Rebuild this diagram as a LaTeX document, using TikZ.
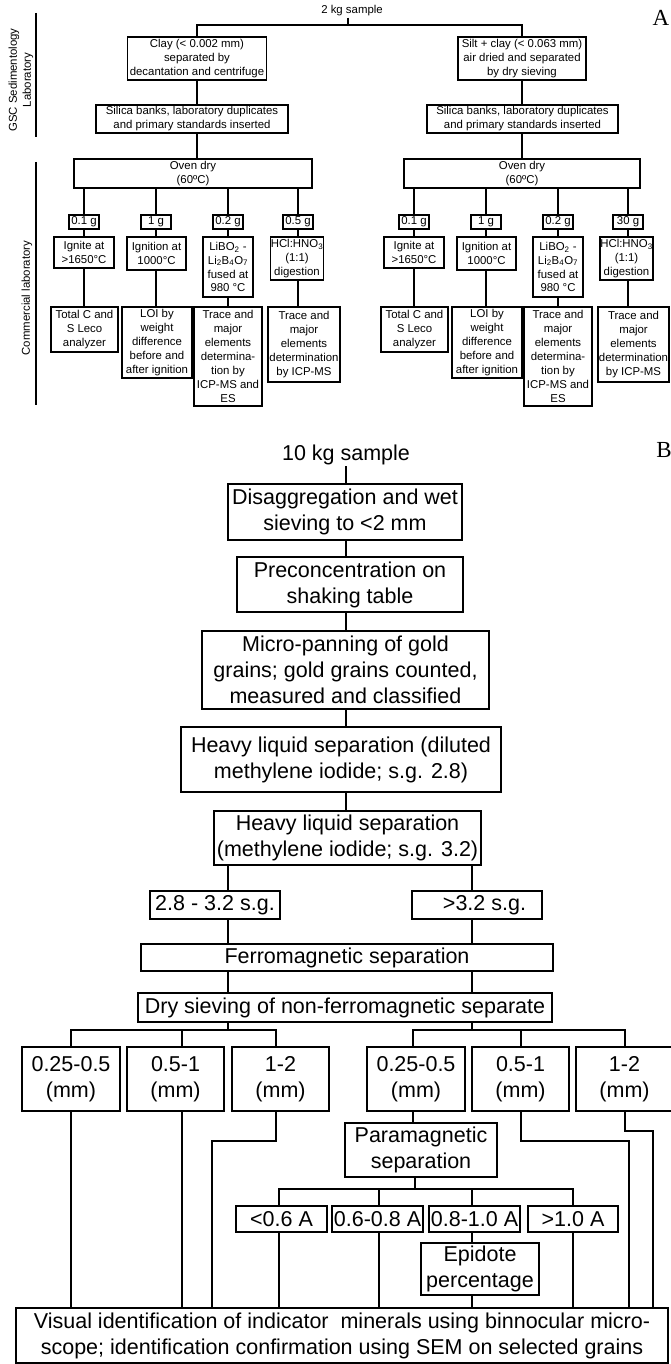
\documentclass[tikz,border=0pt]{standalone}
\usepackage{fontspec}
\setmainfont{Liberation Sans}
\newfontfamily\labfont{Liberation Serif}
\newcommand{\mybox}[7]{\node[#6, minimum width={((#4)-(#2))*1pt}, minimum height={((#5)-(#3))*1pt}] (#1) at ({((#2)+(#4))/2},{((#3)+(#5))/2}) {#7};}
\newcommand{\fa}{\fontsize{11.4}{13.9}\selectfont}
\newcommand{\fb}{\fontsize{21.5}{26}\selectfont}
\tikzset{
  boxa/.style={draw, line width=1.2pt, inner sep=0pt, align=center, font=\fa},
  boxb/.style={draw, line width=1.8pt, inner sep=0pt, align=center, font=\fb},
  conna/.style={line width=1.2pt},
  connb/.style={line width=1.8pt},
  bracket/.style={line width=1.8pt},
  panel/.style={font=\labfont\fontsize{23}{23}\selectfont, inner sep=0pt},
}
\begin{document}
\begin{tikzpicture}[x=1pt,y=-1pt]
\fill[white] (0,0) rectangle (670,1364);
\useasboundingbox (0,0) rectangle (670,1364);
% ---------------- Part A ----------------
\node[panel] (labA) at (661,18) {A};
\node[rotate=90, align=center, font=\fa] (gsc) at (21,80) {GSC Sedimentology\\Laboratory};
\node[rotate=90, font=\fa] (comm) at (27,298) {Commercial laboratory};
\coordinate (g1) at (36,13); \coordinate (g2) at (36,137);
\coordinate (c1) at (36,162); \coordinate (c2) at (36,405);
\draw[bracket] (g1) -- (g2);
\draw[bracket] (c1) -- (c2);

\node[font=\fa, inner sep=1pt] (sampleA) at (352,11) {2 kg sample};
\coordinate (hA) at (348,25);
\mybox{clay}{127.5}{37}{266.5}{80}{boxa}{Clay (< 0.002 mm)\\separated by\\decantation and centrifuge}
\mybox{siltA}{458}{37}{586}{80}{boxa}{Silt + clay (< 0.063 mm)\\air dried and separated\\by dry sieving}
\mybox{silL}{96}{105}{288}{133}{boxa}{Silica banks, laboratory duplicates\\and primary standards inserted}
\mybox{silR}{427}{105}{618}{133}{boxa}{Silica banks, laboratory duplicates\\and primary standards inserted}
\mybox{ovenL}{74}{159}{312}{188}{boxa}{Oven dry\\(60ºC)}
\mybox{ovenR}{404}{159}{640}{188}{boxa}{Oven dry\\(60ºC)}

\draw[conna] (sampleA.south -| hA) -- (hA);
\draw[conna] (clay.north) |- (hA) -| (siltA.north);
\draw[conna] (clay.south) -- (clay.south |- silL.north);
\draw[conna] (clay.south |- silL.south) -- (clay.south |- ovenL.north);
\draw[conna] (siltA.south) -- (siltA.south |- silR.north);
\draw[conna] (siltA.south |- silR.south) -- (siltA.south |- ovenR.north);

% weights
\mybox{wL1}{69}{215}{99}{229}{boxa}{0.1 g}
\mybox{wL2}{141}{215}{171}{229}{boxa}{1 g}
\mybox{wL3}{213}{215}{243}{229}{boxa}{0.2 g}
\mybox{wL4}{283}{215}{313}{229}{boxa}{0.5 g}
\mybox{wR1}{399}{215}{429}{229}{boxa}{0.1 g}
\mybox{wR2}{471}{215}{501}{229}{boxa}{1 g}
\mybox{wR3}{543}{215}{573}{229}{boxa}{0.2 g}
\mybox{wR4}{613}{215}{643}{229}{boxa}{30 g}
% processes
\mybox{pL1}{54}{237}{114}{268}{boxa}{Ignite at\\>1650°C}
\mybox{pL2}{127}{237}{186}{270}{boxa}{Ignition at\\1000°C}
\mybox{pL3}{203}{237}{253}{297}{boxa}{LiBO\textsubscript{2} -\\Li\textsubscript{2}B\textsubscript{4}O\textsubscript{7}\\fused at\\980 °C}
\mybox{pL4}{270.5}{237}{323.5}{280}{boxa}{HCl:HNO\textsubscript{3}\\(1:1)\\digestion}
\mybox{pR1}{384}{237}{444}{268}{boxa}{Ignite at\\>1650°C}
\mybox{pR2}{457}{237}{516}{270}{boxa}{Ignition at\\1000°C}
\mybox{pR3}{533}{237}{583}{297}{boxa}{LiBO\textsubscript{2} -\\Li\textsubscript{2}B\textsubscript{4}O\textsubscript{7}\\fused at\\980 °C}
\mybox{pR4}{600}{237}{653}{280}{boxa}{HCl:HNO\textsubscript{3}\\(1:1)\\digestion}
% results
\mybox{rL1}{51}{307}{118}{352}{boxa}{Total C and\\S Leco\\analyzer}
\mybox{rL2}{122}{307}{192}{378}{boxa}{LOI by\\weight\\difference\\before and\\after ignition}
\mybox{rL3}{194}{307}{262}{406}{boxa}{Trace and\\major\\elements\\determina-\\tion by\\ICP-MS and\\ES}
\mybox{rL4}{268}{307}{340}{382}{boxa}{Trace and\\major\\elements\\determination\\by ICP-MS}
\mybox{rR1}{381}{307}{448}{352}{boxa}{Total C and\\S Leco\\analyzer}
\mybox{rR2}{452}{307}{522}{378}{boxa}{LOI by\\weight\\difference\\before and\\after ignition}
\mybox{rR3}{524}{307}{592}{406}{boxa}{Trace and\\major\\elements\\determina-\\tion by\\ICP-MS and\\ES}
\mybox{rR4}{598}{307}{669}{382}{boxa}{Trace and\\major\\elements\\determination\\by ICP-MS}

\foreach \s in {L,R} {
  \foreach \i in {1,2,3,4} {
    \draw[conna] (oven\s.south -| w\s\i.north) -- (w\s\i.north);
    \draw[conna] (w\s\i.south) -- (w\s\i.south |- p\s\i.north);
    \draw[conna] (w\s\i.south |- p\s\i.south) -- (w\s\i.south |- r\s\i.north);
  }
}

% ---------------- Part B ----------------
\node[panel] (labB) at (664,450) {B};
\node[font=\fb, inner sep=1pt] (sampleB) at (346,455) {10 kg sample};
\coordinate (sp) at (346,0);
\mybox{dis}{228}{484}{462}{540}{boxb}{Disaggregation and wet\\sieving to <2 mm}
\mybox{pre}{237}{557}{463}{612}{boxb}{Preconcentration on\\shaking table}
\mybox{micro}{202}{631}{489}{709}{boxb}{Micro-panning of gold\\grains; gold grains counted,\\measured and classified}
\mybox{hla}{181}{727}{501}{792}{boxb}{Heavy liquid separation (diluted\\methylene iodide; s.g. 2.8)}
\mybox{hlb}{214}{811}{481}{865}{boxb}{Heavy liquid separation\\(methylene iodide; s.g. 3.2)}
\mybox{sga}{150}{891}{280}{919}{boxb}{2.8 - 3.2 s.g.}
\mybox{sgb}{412}{891}{542}{919}{boxb}{\kern15pt>3.2 s.g.}
\mybox{ferro}{141}{944}{553}{971}{boxb}{Ferromagnetic separation}
\mybox{dry}{138}{993}{552}{1022}{boxb}{Dry sieving of non-ferromagnetic separate}
\mybox{sLa}{22}{1047}{120}{1111}{boxb}{0.25-0.5\\(mm)}
\mybox{sLb}{127}{1047}{224}{1111}{boxb}{0.5-1\\(mm)}
\mybox{sLc}{232}{1047}{329}{1111}{boxb}{1-2\\(mm)}
\mybox{sRa}{367}{1047}{465}{1111}{boxb}{0.25-0.5\\(mm)}
\mybox{sRb}{472}{1047}{569}{1111}{boxb}{0.5-1\\(mm)}
\mybox{sRc}{576}{1047}{673}{1111}{boxb}{1-2\\(mm)}
\mybox{para}{345}{1123}{497}{1177}{boxb}{Paramagnetic\\separation}
\mybox{amA}{236}{1206}{327}{1232}{boxb}{<0.6 A}
\mybox{amB}{332}{1206}{423}{1232}{boxb}{0.6-0.8 A}
\mybox{amC}{429}{1206}{520}{1232}{boxb}{0.8-1.0 A}
\mybox{amD}{528}{1206}{618}{1232}{boxb}{>1.0 A}
\mybox{epi}{421}{1243}{539}{1295}{boxb}{Epidote\\percentage}
\mybox{bot}{16}{1308}{668}{1363}{boxb}{Visual identification of indicator\ \ minerals using binnocular micro-\\scope; identification confirmation using SEM on selected grains}

% spine
\draw[connb] (sp |- sampleB.south) -- (sp |- dis.north);
\draw[connb] (sp |- dis.south) -- (sp |- pre.north);
\draw[connb] (sp |- pre.south) -- (sp |- micro.north);
\draw[connb] (sp |- micro.south) -- (sp |- hla.north);
\draw[connb] (sp |- hla.south) -- (sp |- hlb.north);
% two streams
\coordinate (cL) at (228,0);
\coordinate (cR) at (472,0);
\foreach \c in {cL,cR} {
  \draw[connb] (\c |- hlb.south) -- (\c |- sga.north);
  \draw[connb] (\c |- sga.south) -- (\c |- ferro.north);
  \draw[connb] (\c |- ferro.south) -- (\c |- dry.north);
}
% sieve branches
\coordinate (xa) at (71,1030);
\coordinate (xb) at (182,1030);
\coordinate (xc) at (276,1030);
\coordinate (xd) at (413,1030);
\coordinate (xe) at (521,1030);
\coordinate (xf) at (625,1030);
\draw[connb] (cL |- dry.south) -- (cL |- xa);
\draw[connb] (cR |- dry.south) -- (cR |- xd);
\draw[connb] (xa |- sLa.north) -- (xa) -- (xc) -- (xc |- sLc.north);
\draw[connb] (xb) -- (xb |- sLb.north);
\draw[connb] (xd |- sRa.north) -- (xd) -- (xf) -- (xf |- sRc.north);
\draw[connb] (xe) -- (xe |- sRb.north);
% downward lines
\coordinate (kL) at (212,1141);
\coordinate (kR) at (629,1141);
\coordinate (kS) at (653,1131);
\draw[connb] (xa |- sLa.south) -- (xa |- bot.north);
\draw[connb] (xb |- sLb.south) -- (xb |- bot.north);
\draw[connb] (xc |- sLc.south) |- (kL) -- (kL |- bot.north);
\draw[connb] (xe |- sRb.south) |- (kR) -- (kR |- bot.north);
\draw[connb] (xf |- sRc.south) |- (kS) -- (kS |- bot.north);
\draw[connb] (xd |- sRa.south) -- (xd |- para.north);
% paramagnetic branches
\coordinate (ya) at (415,1189);
\coordinate (ma) at (279,1189);
\coordinate (mb) at (379,1189);
\coordinate (mc) at (472,1189);
\coordinate (md) at (573,1189);
\draw[connb] (ya |- para.south) -- (ya);
\draw[connb] (ma |- amA.north) -- (ma) -- (md) -- (md |- amD.north);
\draw[connb] (mb) -- (mb |- amB.north);
\draw[connb] (mc) -- (mc |- amC.north);
\draw[connb] (ma |- amA.south) -- (ma |- bot.north);
\draw[connb] (mb |- amB.south) -- (mb |- bot.north);
\draw[connb] (mc |- amC.south) -- (mc |- epi.north);
\draw[connb] (mc |- epi.south) -- (mc |- bot.north);
\draw[connb] (md |- amD.south) -- (md |- bot.north);
\end{tikzpicture}
\end{document}
